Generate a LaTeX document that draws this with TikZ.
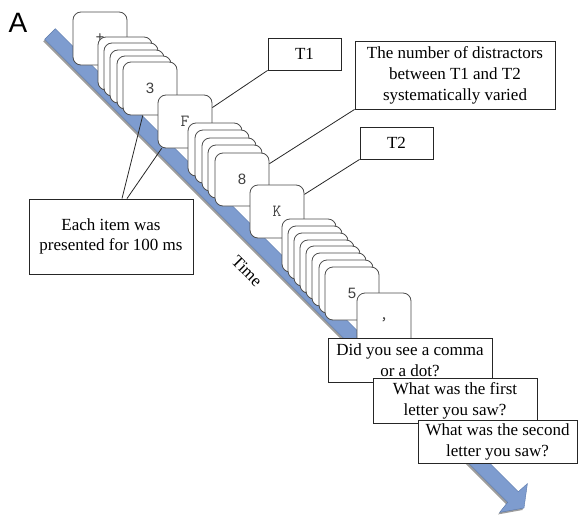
\documentclass[tikz,border=0pt]{standalone}
\usepackage{fontspec}
\setmainfont{Liberation Serif}
\newfontfamily\sansfont{Liberation Sans}
\usepackage{tikz}
\usetikzlibrary{calc, shadows}

\definecolor{bandblue}{HTML}{7E9CCF}
\definecolor{banddark}{HTML}{5A78AA}

\begin{document}
\begin{tikzpicture}[
    x=1pt, y=-1pt,
    card/.style={draw=black!70, line width=0.8pt, fill=white, rounded corners=8pt, minimum width=54pt, minimum height=53pt, inner sep=0pt},
    digit/.style={font=\sansfont\fontsize{15}{15}\selectfont, text=black!75},
    glyph/.style={font=\ttfamily\fontsize{17}{17}\selectfont, text=black!75},
    box/.style={draw=black!85, line width=0.9pt, fill=white, align=center, inner sep=2pt, font=\fontsize{17}{21}\selectfont},
    link/.style={draw=black!85, line width=0.8pt}
]
    \useasboundingbox (0,0) rectangle (578,514);

    % Panel letter
    \node[font=\sansfont\fontsize{28}{28}\selectfont] (panel) at (18,23) {A};

    % Time band
    \fill[bandblue, draw=banddark, line width=0.4pt, drop shadow={shadow xshift=-1.5pt, shadow yshift=-2pt, fill=black!55, opacity=0.7}]
        (55.3,28.7) -- (518.3,491.7) -- (527.4,483.6) -- (524,508) -- (499.6,512.4) -- (507.7,502.3) -- (44.7,39.3) -- cycle;
    \node[rotate=-45, font=\fontsize{17}{17}\selectfont] (time) at (247,271) {Time};

    % Fixation
    \node[card, glyph] (plus) at (100,38.5) {+};

    % Distractors before T1
    \node[card] (d1a) at (125,63.5) {};
    \node[card] (d1b) at (131,69.5) {};
    \node[card] (d1c) at (137,76.5) {};
    \node[card] (d1d) at (144,82.5) {};
    \node[card, digit] (three) at (150,88.5) {3};

    % T1
    \node[card, glyph] (letterF) at (185,121.5) {F};

    % Distractors between T1 and T2
    \node[card] (d2a) at (215,149.5) {};
    \node[card] (d2b) at (222,156.5) {};
    \node[card] (d2c) at (229,164.5) {};
    \node[card] (d2d) at (235,171.5) {};
    \node[card, digit] (eight) at (242,179.5) {8};

    % T2
    \node[card, glyph] (letterK) at (277,211.5) {K};

    % Distractors after T2
    \node[card] (d3a) at (309,245.5) {};
    \node[card] (d3b) at (315,252.5) {};
    \node[card] (d3c) at (321,259.5) {};
    \node[card] (d3d) at (327,266.5) {};
    \node[card] (d3e) at (333,272.5) {};
    \node[card] (d3f) at (339,279.5) {};
    \node[card] (d3g) at (346,286.5) {};
    \node[card, digit] (five) at (352,293.5) {5};

    % Probe
    \node[card, glyph] (comma) at (384,319.5) {,};

    % Labels
    \node[box, minimum width=73pt, minimum height=32pt] (tone) at (304.5,54) {T1};
    \node[box, minimum width=200pt, minimum height=68pt] (distract) at (455,75) {The number of distractors\\between T1 and T2\\systematically varied};
    \node[box, minimum width=73pt, minimum height=32pt] (ttwo) at (396.5,143) {T2};
    \node[box, minimum width=164pt, minimum height=75pt, font=\fontsize{17}{19.5}\selectfont] (each) at (111,236.5) {Each item was\\presented for 100 ms};

    % Label lines
    \draw[link] (tone.south west) -- (letterF.27);
    \draw[link] (distract.south west) -- (eight.30);
    \draw[link] (ttwo.south west) -- (letterK.32);
    \draw[link] ($(each.north)+(11,0)$) -- (three.-105);
    \draw[link] ($(each.north)+(16,0)$) -- (letterF.-131);

    % Questions
    \node[box, minimum width=164pt, minimum height=44pt] (qcomma) at (410,360) {Did you see a comma\\or a dot?};
    \node[box, minimum width=164pt, minimum height=45pt] (qfirst) at (455,400.5) {What was the first\\letter you saw?};
    \node[box, minimum width=159pt, minimum height=43pt] (qsecond) at (497.5,441.5) {What was the second\\letter you saw?};
\end{tikzpicture}
\end{document}
